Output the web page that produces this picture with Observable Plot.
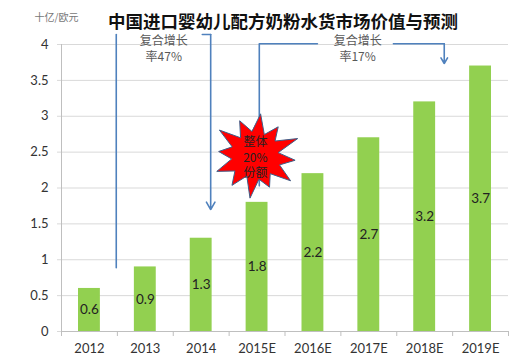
<!DOCTYPE html>
<html><head><meta charset="utf-8">
<script src="https://cdn.jsdelivr.net/npm/d3@7"></script>
<script src="https://cdn.jsdelivr.net/npm/@observablehq/plot@0.6"></script>
<style>
body{margin:0;background:#fff;}
#chart svg{overflow:visible;}
</style></head><body><div id="chart"></div>
<script>
// ---- data ----
const years = ["2012","2013","2014","2015E","2016E","2017E","2018E","2019E"];
const values = [0.6,0.9,1.3,1.8,2.2,2.7,3.2,3.7];
const yTicks = [0,0.5,1,1.5,2,2.5,3,3.5,4];
const title = "中国进口婴幼儿配方奶粉水货市场价值与预测";
const unit = "十亿/欧元";
const cagr1Lines = ["复合增长","率47%"];
const cagr2Lines = ["复合增长","率17%"];
const starLines = ["整体","20%","份额"];

const bars = years.map((year, i) => ({year, i, value: values[i]}));

// ---- annotation geometry (x in category-index units, y in value units) ----
const arrow1Left = [{x:0.98,y:0.89},{x:0.98,y:4.14}];
const arrow1Top = [{x:2.52,y:4.14},{x:2.67,y:4.14}];
const arrow1Down = [{x1:2.67,y1:4.14,x2:2.67,y2:1.70}];
const arrow2Left = [{x:3.54,y:2.03},{x:3.54,y:4.01},{x:4.58,y:4.01}];
const arrow2Right = [{x:5.94,y:4.01},{x:6.85,y:4.01}];
const arrow2Down = [{x1:6.85,y1:4.01,x2:6.85,y2:3.735}];
const cagr1Pos = {x:1.83, y:[4.05,3.82]};
const cagr2Pos = {x:5.30, y:[4.05,3.82]};
const starCenter = {x:3.47, y:2.45};
const starTextY = [2.64,2.42,2.20];
// explosion outline radii in px (outer spike, inner notch alternating)
const starRadii = [44,24,38,25,46,23,40,26,44,24,36,25,45,23,39,26,42,24,37,25,45,24,40,26];
const kx = 1/55.875, ky = 1/71.75;
const starPts = starRadii.map((r,j) => {
  const a = -Math.PI/2 + j*2*Math.PI/starRadii.length + 0.12;
  return {x: starCenter.x + r*Math.cos(a)*kx, y: starCenter.y - r*Math.sin(a)*ky*0.95};
});

const blue = "#4f81bd";
const font = "Lato, 'Noto Sans CJK SC', sans-serif";
const cjk = "'Noto Sans CJK SC', sans-serif";

const chart = Plot.plot({
  width: 520,
  height: 356,
  marginLeft: 61,
  marginRight: 12,
  marginTop: 44,
  marginBottom: 25,
  style: {fontFamily: font, background: "#fff"},
  x: {domain: [0, 8], axis: null},
  y: {domain: [0, 4], axis: null},
  marks: [
    Plot.gridY({ticks: yTicks, stroke: "#d9d9d9", strokeOpacity: 1}),
    Plot.axisY({ticks: yTicks, tickSize: 4, tickPadding: 9, stroke: "#d9d9d9", strokeOpacity: 1,
      tickFormat: d => `${d}`, fontSize: 13, fill: "#333", label: null}),
    Plot.ruleX([0], {stroke: "#bfbfbf"}),
    Plot.ruleY([0], {stroke: "#bfbfbf"}),
    Plot.axisX({ticks: d3.range(9), tickSize: 5, stroke: "#bfbfbf", tickFormat: () => "", label: null}),
    Plot.axisX({ticks: d3.range(8).map(i => i + 0.5), tickSize: 0, tickPadding: 12,
      tickFormat: v => years[Math.round(v - 0.5)], fontSize: 13, fill: "#333", label: null}),
    Plot.rectY(bars, {x1: d => d.i, x2: d => d.i + 1, y: "value", insetLeft: 17, insetRight: 17, fill: "#92d050"}),
    Plot.text(bars, {x: d => d.i + 0.5, y: d => d.value / 2, text: d => `${d.value}`, fontSize: 13.5, fill: "#222"}),
    // arrow 2 (behind star)
    Plot.line(arrow2Left, {x: "x", y: "y", stroke: blue, strokeWidth: 1.6}),
    Plot.line(arrow2Right, {x: "x", y: "y", stroke: blue, strokeWidth: 1.6}),
    Plot.arrow(arrow2Down, {x1: "x1", y1: "y1", x2: "x2", y2: "y2", stroke: blue, strokeWidth: 1.6, headLength: 8}),
    // star
    Plot.line(starPts, {x: "x", y: "y", curve: "linear-closed", fill: "#ff0000", stroke: "#3d5f8a", strokeWidth: 1}),
    Plot.text(starLines, {x: () => starCenter.x, y: (d, i) => starTextY[i], text: d => d, fontSize: 12, fill: "#222", fontFamily: cjk}),
    // arrow 1 (over star)
    Plot.line(arrow1Left, {x: "x", y: "y", stroke: blue, strokeWidth: 1.6}),
    Plot.line(arrow1Top, {x: "x", y: "y", stroke: blue, strokeWidth: 1.6}),
    Plot.arrow(arrow1Down, {x1: "x1", y1: "y1", x2: "x2", y2: "y2", stroke: blue, strokeWidth: 1.6, headLength: 8}),
    Plot.text(cagr1Lines, {x: () => cagr1Pos.x, y: (d, i) => cagr1Pos.y[i], text: d => d, fontSize: 12, fill: "#595959", fontFamily: cjk}),
    Plot.text(cagr2Lines, {x: () => cagr2Pos.x, y: (d, i) => cagr2Pos.y[i], text: d => d, fontSize: 12, fill: "#595959", fontFamily: cjk}),
    // title & unit
    Plot.text([title], {frameAnchor: "top", dx: -2, dy: -29, text: d => d, fontSize: 17.5, fontWeight: "bold", fill: "#111", fontFamily: cjk}),
    Plot.text([unit], {frameAnchor: "top-left", textAnchor: "middle", dx: -5, dy: -31, text: d => d, fontSize: 10, fill: "#777", fontFamily: cjk})
  ]
});
document.getElementById("chart").append(chart);
</script>
</body></html>
